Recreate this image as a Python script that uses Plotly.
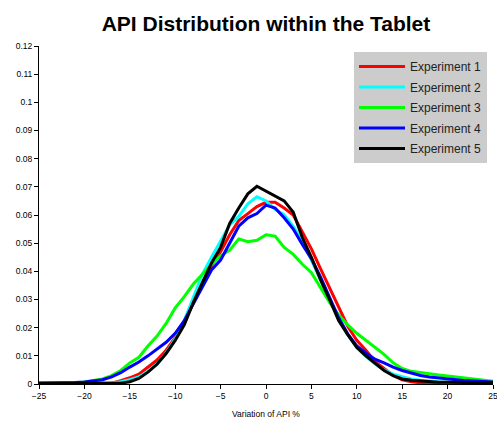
import plotly.graph_objects as go

x_vals = list(range(-25, 26))

exp1 = [0.0003]*9 + [0.0012, 0.0022, 0.0035, 0.006, 0.0085, 0.012, 0.0165, 0.022, 0.029, 0.036,
        0.042, 0.047, 0.053, 0.058, 0.0605, 0.063, 0.0645, 0.0645, 0.0625, 0.060,
        0.054, 0.048, 0.041, 0.034, 0.0275, 0.0205, 0.0155, 0.012, 0.008, 0.0055,
        0.003, 0.0015, 0.0008, 0.0004] + [0.0003]*8
exp2 = [0.0003]*6 + [0.0001, 0.0001, 0.0004, 0.0008, 0.0015, 0.0025, 0.0045, 0.007, 0.011, 0.016,
        0.0225, 0.031, 0.039, 0.045, 0.0505, 0.0565, 0.0595, 0.064, 0.0665, 0.065,
        0.062, 0.060, 0.056, 0.0505, 0.044, 0.037, 0.0295, 0.023, 0.0175, 0.013,
        0.0098, 0.0072, 0.005, 0.0035, 0.0026, 0.0018, 0.0013, 0.001, 0.0008, 0.0007,
        0.0006, 0.0006, 0.0005, 0.0005, 0.0005]
exp3 = [0.0003]*5 + [0.0007, 0.0012, 0.0018, 0.003, 0.0048, 0.0075, 0.0095, 0.0135, 0.017, 0.0215,
        0.027, 0.031, 0.0355, 0.039, 0.0425, 0.0455, 0.0475, 0.0515, 0.0505, 0.051,
        0.053, 0.0525, 0.0485, 0.046, 0.0425, 0.0395, 0.034, 0.029, 0.0245, 0.021,
        0.018, 0.0155, 0.013, 0.0105, 0.0075, 0.0055, 0.0045, 0.004, 0.0035, 0.0032,
        0.0028, 0.0024, 0.002, 0.0016, 0.0012, 0.001]
exp4 = [0.0003]*4 + [0.0005, 0.0007, 0.001, 0.0015, 0.0025, 0.004, 0.006, 0.0078, 0.010, 0.0125,
        0.0148, 0.018, 0.0225, 0.0285, 0.0345, 0.0405, 0.044, 0.050, 0.056, 0.059,
        0.0605, 0.0635, 0.0625, 0.059, 0.055, 0.0495, 0.0445, 0.038, 0.031, 0.0235,
        0.0178, 0.0135, 0.011, 0.0088, 0.0075, 0.006, 0.0048, 0.0038, 0.003, 0.0025,
        0.0021, 0.0018, 0.0015, 0.0012, 0.001, 0.0008, 0.0007]
exp5 = [0.0003]*10 + [0.0008, 0.002, 0.0042, 0.007, 0.0108, 0.0155, 0.021, 0.029, 0.036, 0.043,
        0.0485, 0.057, 0.0625, 0.0675, 0.0702, 0.0685, 0.0668, 0.065, 0.061, 0.052,
        0.045, 0.037, 0.030, 0.0225, 0.0175, 0.013, 0.010, 0.0075, 0.0048, 0.003,
        0.0018, 0.0013, 0.001, 0.0008, 0.0006, 0.0006, 0.0005, 0.0005, 0.0005, 0.0005, 0.0005]

names = ["Experiment 1", "Experiment 2", "Experiment 3", "Experiment 4", "Experiment 5"]
series = [exp1, exp2, exp3, exp4, exp5]
colors = ["#ff0000", "#00ffff", "#00ff00", "#0000ff", "#000000"]

x_ticks = [-25, -20, -15, -10, -5, 0, 5, 10, 15, 20, 25]
y_ticks = [0, 0.01, 0.02, 0.03, 0.04, 0.05, 0.06, 0.07, 0.08, 0.09, 0.1, 0.11, 0.12]
y_tick_text = ["0", "0.01", "0.02", "0.03", "0.04", "0.05", "0.06", "0.07", "0.08", "0.09", "0.1", "0.11", "0.12"]

fig = go.Figure()
for n, s, c in zip(names, series, colors):
    fig.add_trace(go.Scatter(x=x_vals, y=s, mode="lines", name=n, legendgroup=n,
                             line=dict(color=c, width=3)))

font_family = "Liberation Sans, Arial, sans-serif"
fig.update_layout(
    width=497, height=423,
    margin=dict(l=39, r=4, t=46, b=39, autoexpand=False),
    paper_bgcolor="white", plot_bgcolor="white",
    font=dict(family=font_family, color="#000000"),
    title=dict(text="<b>API Distribution within the Tablet</b>", x=0.5, xref="paper",
               y=1 - 24 / 423, yref="container", yanchor="middle",
               font=dict(size=21, family=font_family, color="#000000")),
    showlegend=True,
    legend=dict(x=(487 - 39) / 454, y=(384 - 52) / 338, xanchor="right", yanchor="top",
                bgcolor="#cccccc", borderwidth=0, itemwidth=46,
                font=dict(size=12, family=font_family, color="#222222"),
                tracegroupgap=1.5),
    xaxis=dict(range=[-25, 25], tickvals=x_ticks, showgrid=False, zeroline=False,
               showline=True, linecolor="#000000", linewidth=1, automargin=False,
               ticks="outside", ticklen=4, tickcolor="#000000",
               tickfont=dict(size=8.5), ticklabeloverflow="allow",
               title=dict(text="Variation of API %", font=dict(size=8.5), standoff=10)),
    yaxis=dict(range=[0, 0.12], tickvals=y_ticks, ticktext=y_tick_text, showgrid=False,
               zeroline=False, showline=True, linecolor="#000000", linewidth=1, automargin=False,
               ticks="outside", ticklen=4, tickcolor="#000000",
               tickfont=dict(size=8.5)),
)

fig.write_html("out.html")
